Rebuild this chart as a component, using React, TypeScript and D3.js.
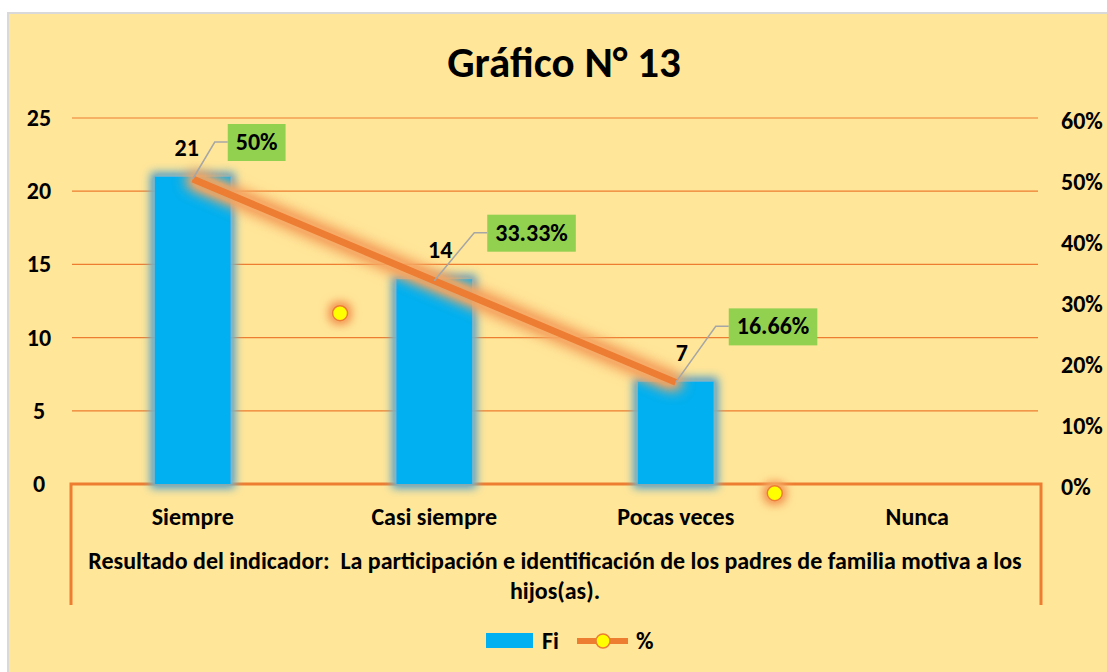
import React, { useEffect, useRef } from "react";
import * as d3 from "d3";

const categories = ["Siempre", "Casi siempre", "Pocas veces", "Nunca"];
const fiValues = [21, 14, 7, 0];
const pctValues: (number | null)[] = [50, 33.33, 16.66, null];
const pctLabels = ["50%", "33.33%", "16.66%"];
const leftTicks = [0, 5, 10, 15, 20, 25];
const rightTicks = [0, 10, 20, 30, 40, 50, 60];
// stray markers of the % series as they appear in the picture (position in category units, value in %)
const strayMarkers = [
  { pos: 0.61, pct: 28 },
  { pos: 2.41, pct: -1.5 },
];
const title = "Gráfico N° 13";
const axisTitleLines = [
  "Resultado del indicador:  La participación e identificación de los padres de familia motiva a los",
  "hijos(as).",
];

const W = 1107;
const H = 672;
const FONT = "Carlito, Lato, 'Open Sans', sans-serif";
const ORANGE = "#ED7D31";
const BLUE = "#00B0F0";
const GREEN = "#92D050";
const BG = "#FFE699";

// label layout offsets (px) relative to the line point
const boxOffsets = [
  [35, -37],
  [53, -48],
  [53, -56],
];
const fiDx = [-6, 6, 6];

export default function App() {
  const ref = useRef<SVGSVGElement>(null);

  useEffect(() => {
    const svg = d3.select(ref.current);
    svg.selectAll("*").remove();

    const left = 72, right = 1038, top = 118, bottom = 484;

    const x = d3.scaleBand<string>().domain(categories).range([left, right]).paddingInner(0.685).paddingOuter(0.3425);
    const yL = d3.scaleLinear().domain([0, 25]).range([bottom, top]);
    const yR = d3.scaleLinear().domain([0, 60]).range([bottom, top]);
    const step = x.step();
    const cx = (i: number) => (x(categories[0]) as number) + x.bandwidth() / 2 + i * step;

    const defs = svg.append("defs");
    const mkGlow = (id: string, color: string, dil: number, blur: number, op: number, region: number) => {
      const f = defs.append("filter").attr("id", id)
        .attr("x", `-${region}%`).attr("y", `-${region}%`).attr("width", `${100 + 2 * region}%`).attr("height", `${100 + 2 * region}%`);
      f.append("feMorphology").attr("in", "SourceAlpha").attr("operator", "dilate").attr("radius", dil).attr("result", "d");
      f.append("feGaussianBlur").attr("in", "d").attr("stdDeviation", blur).attr("result", "b0");
      const ct = f.append("feComponentTransfer").attr("in", "b0").attr("result", "b");
      ct.append("feFuncA").attr("type", "linear").attr("slope", 1.6).attr("intercept", 0);
      f.append("feFlood").attr("flood-color", color).attr("flood-opacity", op);
      f.append("feComposite").attr("in2", "b").attr("operator", "in").attr("result", "g");
      const m = f.append("feMerge");
      m.append("feMergeNode").attr("in", "g");
      m.append("feMergeNode").attr("in", "SourceGraphic");
    };
    mkGlow("glowBlue", "#7AAFBE", 4, 5, 0.9, 50);
    mkGlow("glowOrange", "#F5A560", 4, 7, 0.9, 50);
    mkGlow("glowMarker", "#F5A560", 3, 5, 0.9, 250);

    // background
    svg.append("rect").attr("x", 0).attr("y", 0).attr("width", W).attr("height", H).attr("fill", "#ffffff");
    svg.append("rect").attr("x", 7).attr("y", 12).attr("width", W - 7).attr("height", H - 12).attr("fill", "#D9D9D9");
    svg.append("rect").attr("x", 9).attr("y", 14).attr("width", W - 9).attr("height", H - 14).attr("fill", BG);

    // title
    svg.append("text").attr("x", 564).attr("y", 77).attr("text-anchor", "middle")
      .attr("font-family", FONT).attr("font-weight", 700).attr("font-size", 43).attr("fill", "#000").text(title);

    // gridlines
    svg.append("g").selectAll("line").data(leftTicks.filter((t) => t > 0)).join("line")
      .attr("x1", left).attr("x2", right).attr("y1", (d) => yL(d)).attr("y2", (d) => yL(d))
      .attr("stroke", ORANGE).attr("stroke-width", 1.2);

    // axis box
    svg.append("path")
      .attr("d", `M${left - 1},605 V${bottom} H${right + 3} V605`)
      .attr("fill", "none").attr("stroke", ORANGE).attr("stroke-width", 3);

    // left ticks
    svg.append("g").selectAll("text").data(leftTicks).join("text")
      .attr("x", 39).attr("y", (d) => yL(d) + 8).attr("text-anchor", "middle")
      .attr("font-family", FONT).attr("font-weight", 700).attr("font-size", 24).text((d) => String(d));
    // right ticks
    svg.append("g").selectAll("text").data(rightTicks).join("text")
      .attr("x", 1061).attr("y", (d) => yR(d) + 11)
      .attr("font-family", FONT).attr("font-weight", 700).attr("font-size", 24).text((d) => `${d}%`);

    // bars
    svg.append("g").attr("filter", "url(#glowBlue)").selectAll("rect").data(fiValues.map((v, i) => ({ v, c: categories[i] })).filter((d) => d.v > 0)).join("rect")
      .attr("x", (d) => x(d.c) as number).attr("width", x.bandwidth())
      .attr("y", (d) => yL(d.v)).attr("height", (d) => bottom - yL(d.v)).attr("fill", BLUE);

    // line
    const pts = pctValues.map((v, i) => ({ v, i })).filter((d) => d.v !== null) as { v: number; i: number }[];
    const line = d3.line<{ v: number; i: number }>().x((d) => cx(d.i)).y((d) => yR(d.v));
    svg.append("path").attr("d", line(pts)).attr("fill", "none").attr("stroke", ORANGE)
      .attr("stroke-width", 7).attr("filter", "url(#glowOrange)");

    // stray markers
    svg.append("g").selectAll("circle").data(strayMarkers).join("circle")
      .attr("cx", (d) => cx(d.pos)).attr("cy", (d) => yR(d.pct)).attr("r", 7.5)
      .attr("fill", "#FFFF00").attr("stroke", ORANGE).attr("stroke-width", 1.5).attr("filter", "url(#glowMarker)");

    // Fi labels
    svg.append("g").selectAll("text").data(fiValues.map((v, i) => ({ v, i })).filter((d) => d.v > 0)).join("text")
      .attr("x", (d) => cx(d.i) + fiDx[d.i]).attr("y", (d) => yL(d.v) - 21).attr("text-anchor", "middle")
      .attr("font-family", FONT).attr("font-weight", 700).attr("font-size", 24).text((d) => String(d.v));

    // % labels with leader lines
    pts.forEach((p, k) => {
      const px = cx(p.i), py = yR(p.v);
      const bx = px + boxOffsets[k][0], by = py + boxOffsets[k][1];
      const g = svg.append("g");
      g.append("path").attr("d", `M${bx},${by} H${bx - 13} L${px},${py}`).attr("fill", "none").attr("stroke", "#A6A6A6").attr("stroke-width", 1.5);
      const t = g.append("text").attr("x", bx + 8).attr("y", by + 8)
        .attr("font-family", FONT).attr("font-weight", 700).attr("font-size", 24).text(pctLabels[k]);
      const w = (t.node() as SVGTextElement).getComputedTextLength();
      g.insert("rect", "text").attr("x", bx).attr("y", by - 18).attr("width", w + 16).attr("height", 37).attr("fill", GREEN);
    });

    // category labels
    svg.append("g").selectAll("text").data(categories).join("text")
      .attr("x", (_, i) => cx(i)).attr("y", 525).attr("text-anchor", "middle")
      .attr("font-family", FONT).attr("font-weight", 700).attr("font-size", 24).text((d) => d);

    // axis title
    svg.append("g").selectAll("text").data(axisTitleLines).join("text")
      .attr("x", 555).attr("y", (_, i) => 569 + i * 30).attr("text-anchor", "middle").attr("xml:space", "preserve")
      .style("white-space", "pre")
      .attr("font-family", FONT).attr("font-weight", 700).attr("font-size", 24).text((d) => d);

    // legend
    const lg = svg.append("g");
    lg.append("rect").attr("x", 486).attr("y", 633).attr("width", 47).attr("height", 15).attr("fill", BLUE);
    lg.append("text").attr("x", 542).attr("y", 649).attr("font-family", FONT).attr("font-weight", 700).attr("font-size", 24).text("Fi");
    lg.append("line").attr("x1", 577).attr("x2", 628).attr("y1", 641).attr("y2", 641).attr("stroke", ORANGE).attr("stroke-width", 6);
    lg.append("circle").attr("cx", 603).attr("cy", 641).attr("r", 7).attr("fill", "#FFFF00").attr("stroke", ORANGE).attr("stroke-width", 1.5);
    lg.append("text").attr("x", 636).attr("y", 649).attr("font-family", FONT).attr("font-weight", 700).attr("font-size", 24).text("%");
  }, []);

  return <svg ref={ref} width={W} height={H} style={{ position: "absolute", left: 0, top: 0 }} />;
}
